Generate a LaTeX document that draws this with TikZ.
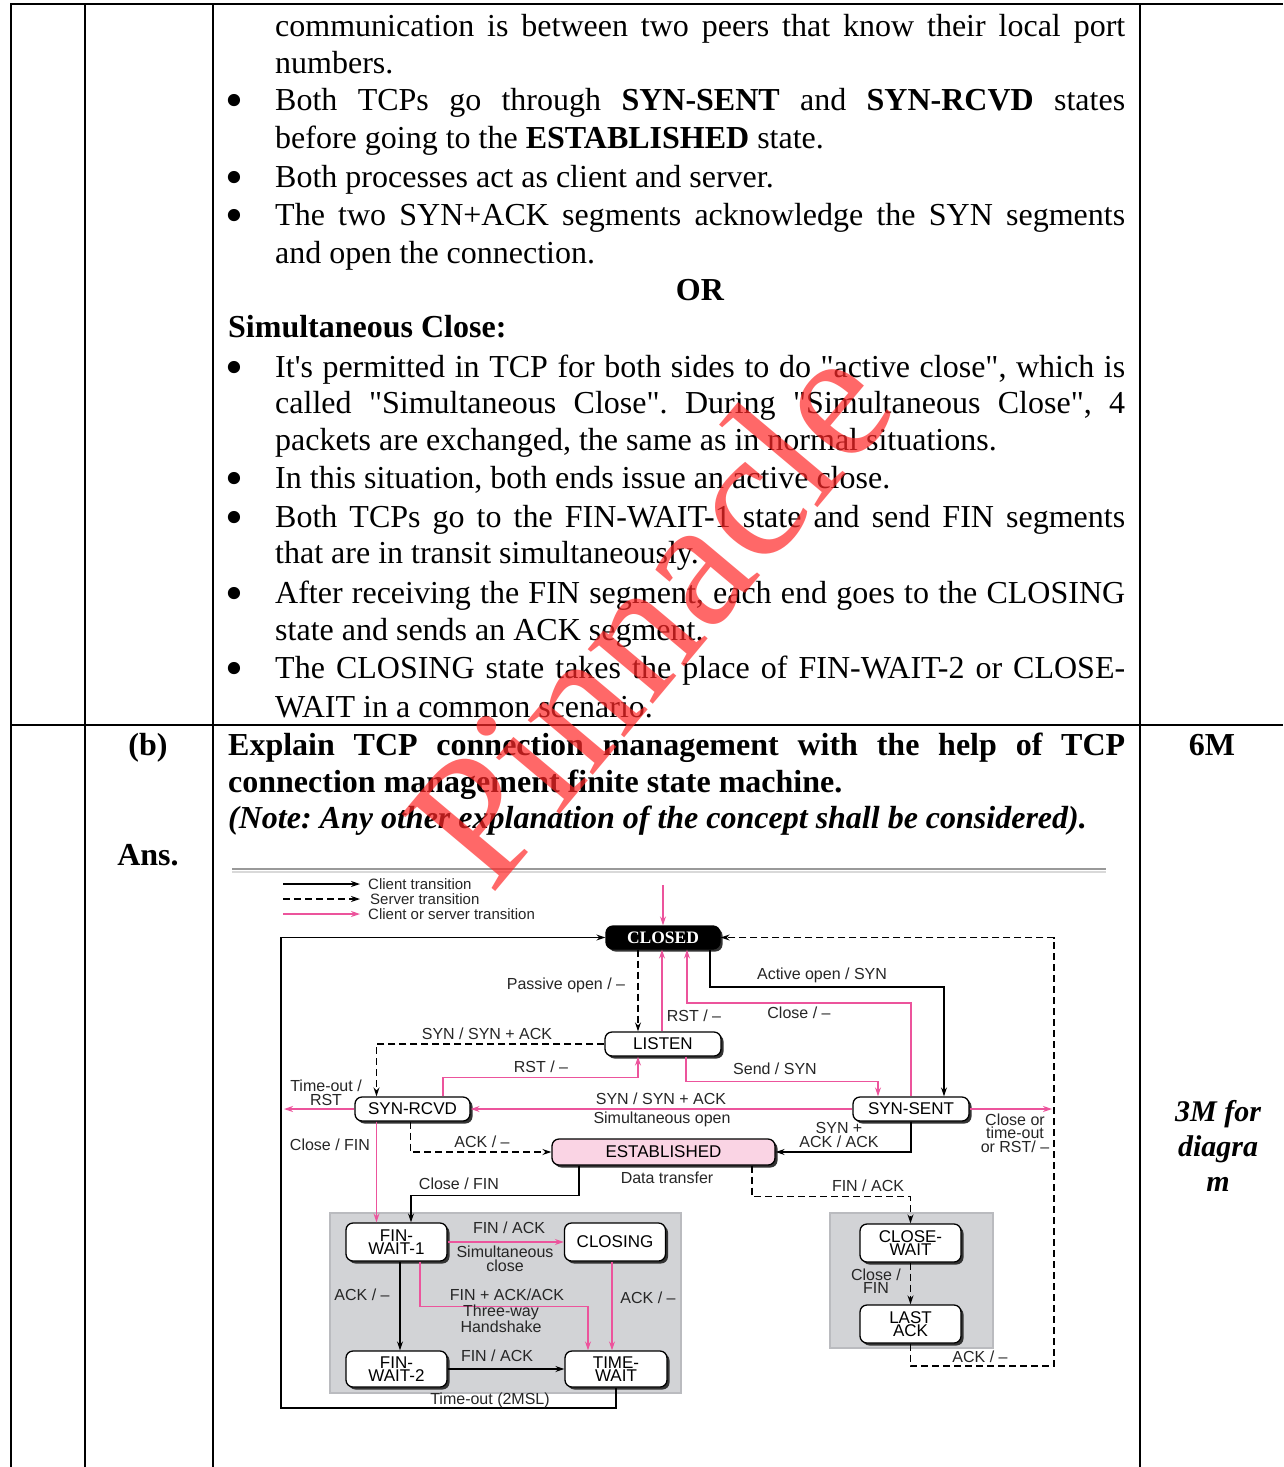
\documentclass[tikz,border=0pt]{standalone}
\usepackage{graphicx}
\usepackage{fontspec}
\setmainfont{Liberation Serif}
\setsansfont{Liberation Sans}
\usetikzlibrary{arrows.meta,shadows}
\definecolor{pinkc}{RGB}{236,84,156}
\definecolor{estfill}{RGB}{250,212,228}
\definecolor{boxgray}{RGB}{210,211,214}
\definecolor{boxedge}{RGB}{186,187,191}
\definecolor{wmred}{RGB}{255,40,40}
\newcommand{\qd}{\textquotedbl}
\newcommand{\bigbul}{\raisebox{-7pt}{\scalebox{1.6}{\textbullet}}}
\frenchspacing
\begin{document}
\begin{tikzpicture}[x=1pt,y=-1pt,
  body/.style={anchor=base west, inner sep=0pt, font=\fontsize{32}{37}\selectfont},
  bodyc/.style={anchor=base, inner sep=0pt, font=\fontsize{32}{37}\selectfont},
  bul/.style={anchor=base, inner sep=0pt, font=\fontsize{32}{37}\selectfont},
  tline/.style={line width=2pt},
  st/.style={draw, line width=1.3pt, rounded corners=7pt, fill=white, inner sep=0pt, align=center,
     font=\sffamily\fontsize{17}{13}\selectfont,
     drop shadow={shadow xshift=2.5pt, shadow yshift=-2.5pt, fill=black!80, opacity=1}},
  lab/.style={inner sep=0pt, align=center, font=\sffamily\fontsize{16}{13.5}\selectfont, text=black!85},
  leg/.style={inner sep=0pt, anchor=west, font=\sffamily\fontsize{15}{13}\selectfont, text=black!85},
  cli/.style={line width=1.4pt, -{Stealth[length=9pt,width=6pt]}},
  srv/.style={cli, dash pattern=on 7pt off 4pt},
  cs/.style={line width=1.4pt, draw=pinkc, -{Stealth[length=9pt,width=6pt]}},
]
\useasboundingbox (0,0) rectangle (1283,1467);
\fill[white] (0,0) rectangle (1283,1467);

% ---------- table rules ----------
\draw[tline] (10,4) -- (1283,4);
\draw[tline] (10,725) -- (1283,725);
\draw[tline] (10.5,4) -- (10.5,1467);
\draw[tline] (84.5,4) -- (84.5,1467);
\draw[tline] (213,4) -- (213,1467);
\draw[tline] (1140,4) -- (1140,1467);

% ---------- row 1 text ----------
\node[body] (t1) at (275,36.5) {\makebox[850pt][s]{communication is between two peers that know their local port}};
\node[body] (t2) at (275,73) {numbers.};
\node[bul] (b1) at (234,110.5) {\bigbul};
\node[body] (t3) at (275,110.5) {\makebox[850pt][s]{Both TCPs go through \textbf{SYN-SENT} and \textbf{SYN-RCVD} states}};
\node[body] (t4) at (275,148) {before going to the \textbf{ESTABLISHED} state.};
\node[bul] (b2) at (234,187) {\bigbul};
\node[body] (t5) at (275,187) {Both processes act as client and server.};
\node[bul] (b3) at (234,225) {\bigbul};
\node[body] (t6) at (275,225) {\makebox[850pt][s]{The two SYN+ACK segments acknowledge the SYN segments}};
\node[body] (t7) at (275,263) {and open the connection.};
\node[bodyc] (tor) at (700,300) {\textbf{OR}};
\node[body] (t8) at (228,337) {\textbf{Simultaneous Close:}};
\node[bul] (b4) at (234,377) {\bigbul};
\node[body] (t9) at (275,377) {\makebox[850pt][s]{It\textquotesingle s permitted in TCP for both sides to do \qd active close\qd, which is}};
\node[body] (t10) at (275,413) {\makebox[850pt][s]{called \qd Simultaneous Close\qd. During \qd Simultaneous Close\qd, 4}};
\node[body] (t11) at (275,450) {packets are exchanged, the same as in normal situations.};
\node[bul] (b5) at (234,488) {\bigbul};
\node[body] (t12) at (275,488) {In this situation, both ends issue an active close.};
\node[bul] (b6) at (234,527) {\bigbul};
\node[body] (t13) at (275,527) {\makebox[850pt][s]{Both TCPs go to the FIN-WAIT-1 state and send FIN segments}};
\node[body] (t14) at (275,563) {that are in transit simultaneously.};
\node[bul] (b7) at (234,603) {\bigbul};
\node[body] (t15) at (275,603) {\makebox[850pt][s]{After receiving the FIN segment, each end goes to the CLOSING}};
\node[body] (t16) at (275,640) {state and sends an ACK segment.};
\node[bul] (b8) at (234,678) {\bigbul};
\node[body] (t17) at (275,678) {\makebox[850pt][s]{The CLOSING state takes the place of FIN-WAIT-2 or CLOSE-}};
\node[body] (t18) at (275,717) {WAIT in a common scenario.};

% ---------- row 2 text ----------
\node[bodyc] (qb) at (148,755) {\textbf{(b)}};
\node[bodyc] (qans) at (148,865) {\textbf{Ans.}};
\node[bodyc] (q6m) at (1212,755) {\textbf{6M}};
\node[body] (q1) at (228,755) {\makebox[897pt][s]{\bfseries Explain TCP connection management with the help of TCP}};
\node[body] (q2) at (228,792) {\textbf{connection management finite state machine.}};
\node[body] (q3) at (228,828) {\textbf{\textit{(Note: Any other explanation of the concept shall be considered).}}};
\node[bodyc, font=\bfseries\itshape\fontsize{30}{35}\selectfont] (m1) at (1218,1121) {3M for};
\node[bodyc, font=\bfseries\itshape\fontsize{30}{35}\selectfont] (m2) at (1218,1156) {diagra};
\node[bodyc, font=\bfseries\itshape\fontsize{30}{35}\selectfont] (m3) at (1218,1191) {m};

% ---------- diagram ----------
\draw[black!40, line width=2pt] (232,869) -- (1106,869);
\draw[black!15, line width=2pt] (232,872) -- (1106,872);

% legend
\coordinate (lg1a) at (283,884); \coordinate (lg1b) at (360,884);
\coordinate (lg2a) at (283,899); \coordinate (lg2b) at (360,899);
\coordinate (lg3a) at (283,914); \coordinate (lg3b) at (360,914);
\draw[cli] (lg1a) -- (lg1b);
\draw[srv] (lg2a) -- (lg2b);
\draw[cs] (lg3a) -- (lg3b);
\node[leg] (lgt1) at (368,884) {Client transition};
\node[leg] (lgt2) at (370,899) {Server transition};
\node[leg] (lgt3) at (368,914) {Client or server transition};

% gray groups
\draw[fill=boxgray, draw=boxedge, line width=1.5pt] (330,1213) rectangle (681,1393);
\draw[fill=boxgray, draw=boxedge, line width=1.5pt] (830,1213) rectangle (993,1348);

% states
\node[st, fill=black, text=white, font=\rmfamily\bfseries\fontsize{17.5}{15}\selectfont, minimum width=114pt, minimum height=23pt] (closed) at (663,937.5) {CLOSED};
\node[st, minimum width=116pt, minimum height=24pt] (listen) at (663,1044) {LISTEN};
\node[st, minimum width=115pt, minimum height=24pt] (synrcvd) at (412.5,1109) {SYN-RCVD};
\node[st, minimum width=116pt, minimum height=24pt] (synsent) at (911,1109) {SYN-SENT};
\node[st, fill=estfill, minimum width=223pt, minimum height=26pt] (estab) at (663.5,1152) {ESTABLISHED};
\node[st, minimum width=101pt, minimum height=38pt] (fw1) at (396.5,1242) {FIN-\\WAIT-1};
\node[st, minimum width=101pt, minimum height=38pt] (closing) at (615,1242) {CLOSING};
\node[st, minimum width=101pt, minimum height=36pt] (fw2) at (396.5,1369) {FIN-\\WAIT-2};
\node[st, minimum width=102pt, minimum height=36pt] (tw) at (616,1369) {TIME-\\WAIT};
\node[st, minimum width=101pt, minimum height=38pt] (cw) at (910.5,1243) {CLOSE-\\WAIT};
\node[st, minimum width=101pt, minimum height=38pt] (la) at (910.5,1324) {LAST\\ACK};

% connectors
\coordinate (topin) at (663,885);
\draw[cs] (topin) -- (closed.north);
\coordinate (bl) at (281,1408);
\draw[cli] (tw.south) |- (bl) |- (closed.west);
\coordinate (br) at (1054,1366);
\draw[srv] (la.south) |- (br) |- (closed.east);
\draw[srv] ([xshift=-25pt]closed.south) -- ([xshift=-25pt]listen.north);
\draw[cs] ([xshift=-1pt]listen.north) -- ([xshift=-1pt]closed.south);
\coordinate (c6) at (687,1003);
\draw[cs] (synsent.north) |- (c6) -- ([xshift=24pt]closed.south);
\coordinate (c7) at (944,987);
\draw[cli] ([xshift=47pt]closed.south) |- (c7) -- ([xshift=33pt]synsent.north);
\draw[srv] (listen.west) -| ([xshift=-36pt]synrcvd.north);
\draw[cs] ([xshift=30.5pt]synrcvd.north) -- ++(0,-19) -| ([xshift=-25pt]listen.south);
\draw[cs] ([xshift=23pt]listen.south) -- ++(0,25) -| ([xshift=-33pt]synsent.north);
\draw[cs] (synsent.west) -- (synrcvd.east);
\coordinate (c12) at (284,1109);
\draw[cs] (synrcvd.west) -- (c12);
\coordinate (c13) at (1052,1109);
\draw[cs] (synsent.east) -- (c13);
\draw[cs] ([xshift=-36pt]synrcvd.south) -- ([xshift=-20pt]fw1.north);
\draw[srv] ([xshift=-2pt]synrcvd.south) |- (estab.west);
\draw[cli] (synsent.south) |- (estab.east);
\draw[cli] ([xshift=-84.5pt]estab.south) -- ++(0,30) -| ([xshift=14.5pt]fw1.north);
\draw[srv] ([xshift=88.5pt]estab.south) -- ++(0,31) -| (cw.north);
\draw[cs] (fw1.east) -- (closing.west);
\draw[cli] ([xshift=3.5pt]fw1.south) -- ([xshift=3.5pt]fw2.north);
\draw[cs] ([xshift=23.5pt]fw1.south) -- ++(0,45) -| ([xshift=-28pt]tw.north);
\draw[cs] ([xshift=-3pt]closing.south) -- ([xshift=-4pt]tw.north);
\draw[cli] (fw2.east) -- (tw.west);
\draw[srv] (cw.south) -- (la.north);

% labels
\node[lab] (l1) at (566,985) {Passive open / –};
\node[lab] (l2) at (694,1016) {RST / –};
\node[lab] (l3) at (822,975) {Active open / SYN};
\node[lab] (l4) at (799,1013) {Close / –};
\node[lab] (l5) at (487,1034) {SYN / SYN + ACK};
\node[lab] (l6) at (541,1067) {RST / –};
\node[lab] (l7) at (775,1069) {Send / SYN};
\node[lab] (l8) at (661,1099) {SYN / SYN + ACK};
\node[lab] (l9) at (662,1119) {Simultaneous open};
\node[lab] (l10) at (326,1093) {Time-out /\\RST};
\node[lab] (l11) at (1015,1133) {Close or\\time-out\\or RST/ –};
\node[lab] (l12) at (330,1145) {Close / FIN};
\node[lab] (l13) at (482,1142) {ACK / –};
\node[lab] (l14) at (839,1135) {SYN +\\ACK / ACK};
\node[lab] (l15) at (667,1178) {Data transfer};
\node[lab] (l16) at (459,1184) {Close / FIN};
\node[lab] (l17) at (868,1186) {FIN / ACK};
\node[lab] (l18) at (509,1228) {FIN / ACK};
\node[lab] (l19) at (505,1259) {Simultaneous\\close};
\node[lab] (l20) at (362,1295) {ACK / –};
\node[lab] (l21) at (507,1295) {FIN + ACK/ACK};
\node[lab] (l22) at (501,1319) {Three-way\\Handshake};
\node[lab] (l23) at (648,1298) {ACK / –};
\node[lab] (l24) at (497,1356) {FIN / ACK};
\node[lab] (l25) at (490,1400) {Time-out (2MSL)};
\node[lab] (l26) at (876,1281) {Close /\\FIN};
\node[lab] (l27) at (980,1357) {ACK / –};

% watermark
\node[rotate=50, text=wmred, opacity=0.7, inner sep=0pt, font=\rmfamily\fontsize{185}{185}\selectfont] (wm) at (648,612) {Pinnacle};
\end{tikzpicture}
\end{document}
